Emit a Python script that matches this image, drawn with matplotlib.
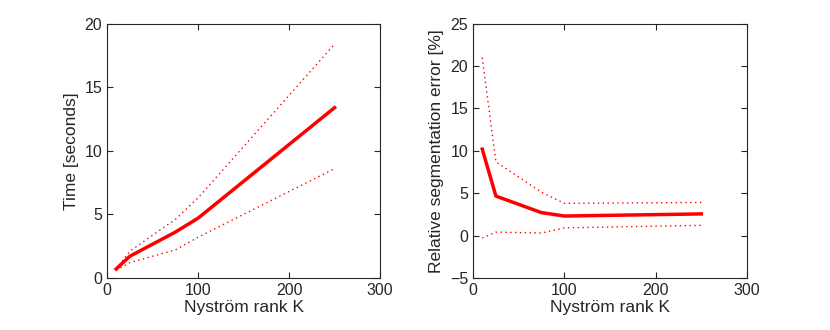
import matplotlib
matplotlib.use("Agg")
import matplotlib.pyplot as plt

# Data
rank_k = [10, 25, 75, 100, 250]
time_mean = [0.7, 1.7, 3.6, 4.7, 13.4]
time_upper = [0.7, 2.1, 4.6, 6.3, 18.4]
time_lower = [0.6, 1.2, 2.2, 3.2, 8.6]

err_mean = [10.2, 4.65, 2.7, 2.3, 2.55]
err_upper = [21.0, 8.7, 5.1, 3.8, 3.9]
err_lower = [-0.3, 0.4, 0.3, 0.9, 1.2]

plt.rcParams["font.family"] = ["Liberation Sans", "DejaVu Sans"]
plt.rcParams["font.size"] = 12

fig = plt.figure(figsize=(8.3, 3.3), dpi=100)
ax1 = fig.add_axes([0.129, 0.158, 0.329, 0.770])
ax2 = fig.add_axes([0.570, 0.158, 0.330, 0.770])

dots = (0, (1, 2.5))

# Left: time
ax1.plot(rank_k, time_mean, color="red", linewidth=2.5)
ax1.plot(rank_k, time_upper, color="red", linewidth=1, linestyle=dots)
ax1.plot(rank_k, time_lower, color="red", linewidth=1, linestyle=dots)
ax1.set_xlim(0, 300)
ax1.set_ylim(0, 20)
ax1.set_xticks([0, 100, 200, 300])
ax1.set_yticks([0, 5, 10, 15, 20])
ax1.set_xlabel("Nyström rank K", fontsize=12.5, labelpad=2)
ax1.set_ylabel("Time [seconds]", fontsize=12.5)

# Right: error
ax2.plot(rank_k, err_mean, color="red", linewidth=2.5)
ax2.plot(rank_k, err_upper, color="red", linewidth=1, linestyle=dots)
ax2.plot(rank_k, err_lower, color="red", linewidth=1, linestyle=dots)
ax2.set_xlim(0, 300)
ax2.set_ylim(-5, 25)
ax2.set_xticks([0, 100, 200, 300])
ax2.set_yticks([-5, 0, 5, 10, 15, 20, 25])
ax2.set_xlabel("Nyström rank K", fontsize=12.5, labelpad=2)
ax2.set_ylabel("Relative segmentation error [%]", fontsize=12.5)

for ax in (ax1, ax2):
    ax.tick_params(direction="in", top=True, right=True, length=4,
                   colors="#262626", labelsize=11.5)
    for s in ax.spines.values():
        s.set_color("#262626")
        s.set_linewidth(0.8)
    ax.xaxis.label.set_color("#262626")
    ax.yaxis.label.set_color("#262626")

fig.savefig("out.png", dpi=100)
